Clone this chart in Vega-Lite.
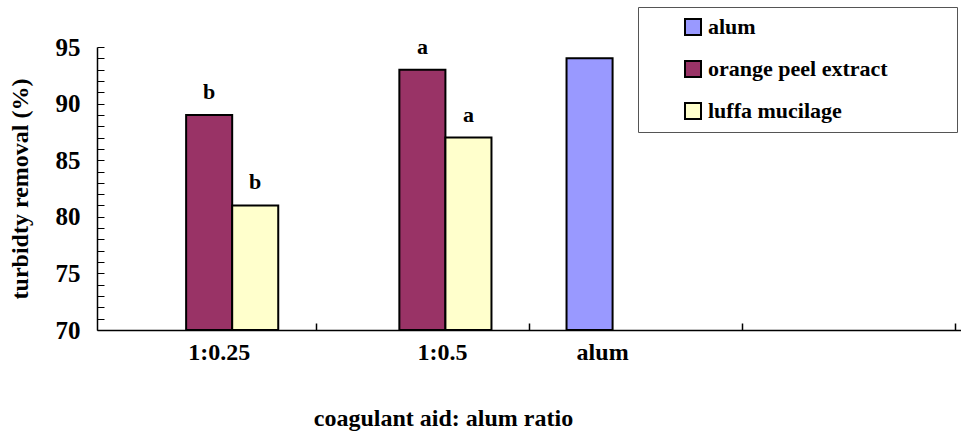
{
  "$schema": "https://vega.github.io/schema/vega-lite/v6.json",
  "width": 864,
  "height": 283,
  "autosize": "none",
  "padding": {"left": 97, "top": 47, "right": 0, "bottom": 101},
  "background": "white",
  "config": {
    "view": {"stroke": null},
    "font": "Liberation Serif",
    "text": {"font": "Liberation Serif"},
    "axis": {"labelFont": "Liberation Serif", "titleFont": "Liberation Serif", "labelFontWeight": "bold", "titleFontWeight": "bold", "labelColor": "black", "titleColor": "black", "domainColor": "black", "tickColor": "black", "grid": false, "labelOverlap": false},
    "legend": {"labelFont": "Liberation Serif", "labelFontWeight": "bold", "labelColor": "black"}
  },
  "data": {
    "values": [
      {"group": "1:0.25", "series": "orange peel extract", "value": 89, "sig": "b"},
      {"group": "1:0.25", "series": "luffa mucilage", "value": 81, "sig": "b"},
      {"group": "1:0.5", "series": "orange peel extract", "value": 93, "sig": "a"},
      {"group": "1:0.5", "series": "luffa mucilage", "value": 87, "sig": "a"},
      {"group": "alum", "series": "alum", "value": 94, "sig": ""}
    ]
  },
  "encoding": {
    "x": {
      "field": "group",
      "type": "nominal",
      "sort": null,
      "scale": {"domain": ["1:0.25", "1:0.5", "alum", "blank"], "paddingInner": 0.352, "paddingOuter": 0.202},
      "axis": {
        "title": "coagulant aid: alum ratio",
        "titleFont": "Liberation Serif",
        "titleFontSize": 24,
        "titleX": 346,
        "titlePadding": 42,
        "labelFont": "Liberation Serif",
        "labelFontSize": 24,
        "labelAngle": 0,
        "labelPadding": 17,
        "labelExpr": "datum.value == 'blank' ? '' : datum.label",
        "tickOffset": 106.5,
        "labelOffset": {"condition": [{"test": "datum.value == '1:0.25'", "value": -97}, {"test": "datum.value == '1:0.5'", "value": -87}], "value": -140},
        "tickSize": -7,
        "domainWidth": 1.5,
        "tickWidth": 1.5
      }
    },
    "xOffset": {
      "field": "series",
      "type": "nominal",
      "scale": {"domain": ["alum", "orange peel extract", "luffa mucilage"], "paddingInner": 0, "paddingOuter": 0}
    },
    "y": {
      "field": "value",
      "type": "quantitative",
      "scale": {"domain": [70, 95], "zero": false, "nice": false},
      "axis": {
        "title": "turbidty removal (%)",
        "titleFont": "Liberation Serif",
        "titleFontSize": 24,
        "titlePadding": 23,
        "labelFont": "Liberation Serif",
        "labelFontSize": 25,
        "labelOverlap": false,
        "values": [70, 71, 72, 73, 74, 75, 76, 77, 78, 79, 80, 81, 82, 83, 84, 85, 86, 87, 88, 89, 90, 91, 92, 93, 94, 95],
        "labelExpr": "datum.value % 5 == 0 ? datum.label : ''",
        "tickSize": -7,
        "labelPadding": 24,
        "domainWidth": 1.5,
        "tickWidth": 1
      }
    }
  },
  "layer": [
    {
      "mark": {"type": "bar", "stroke": "black", "strokeWidth": 2},
      "encoding": {
        "y2": {"datum": 70},
        "fill": {
          "field": "series",
          "type": "nominal",
          "scale": {"domain": ["alum", "orange peel extract", "luffa mucilage"], "range": ["#9999FF", "#993366", "#FFFFCC"]},
          "legend": {
            "title": "\u2800\u2800\u2800\u2800",
            "titleOrient": "right",
            "titleFont": "DejaVu Sans",
            "titleFontSize": 19,
            "titlePadding": 0,
            "orient": "none",
            "legendX": 541,
            "legendY": -40,
            "strokeColor": "#555555",
            "fillColor": "white",
            "padding": 9,
            "symbolOffset": 35,
            "symbolType": "square",
            "symbolSize": 256,
            "symbolStrokeColor": "black",
            "symbolStrokeWidth": 2,
            "labelFont": "Liberation Serif",
            "labelFontSize": 22,
            "labelOffset": 4,
            "labelLimit": 0,
            "rowPadding": 18
          }
        }
      }
    },
    {
      "mark": {"type": "text", "font": "Liberation Serif", "fontWeight": "bold", "fontSize": 22, "baseline": "alphabetic", "dy": -16, "color": "black"},
      "encoding": {
        "text": {"field": "sig"}
      }
    }
  ]
}
